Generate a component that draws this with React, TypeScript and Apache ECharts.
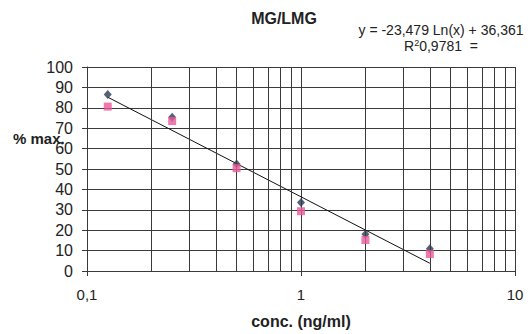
import React, { useEffect, useRef } from "react";
import * as echarts from "echarts";

const concentrations = [0.125, 0.25, 0.5, 1, 2, 4];
const seriesMG = [86.5, 75.4, 52.4, 33.6, 18, 10.9];
const seriesLMG = [80.6, 73.5, 50.4, 29.3, 15.2, 8.3];
const trendX = [0.125, 4];
const trendY = [85.2, 3.8];
const minorGridX = [0.2, 0.3, 0.4, 0.5, 0.6, 0.7, 0.8, 0.9, 2, 3, 4, 5, 6, 7, 8, 9];
const titleText = "MG/LMG";
const equationText = "y = -23,479 Ln(x) + 36,361";
const r2Value = "0,9781";

const FONT = "'Liberation Sans', Arial, sans-serif";
const GRID_COLOR = "#3a3a3a";

export default function App() {
  const ref = useRef<HTMLDivElement>(null);
  useEffect(() => {
    if (!ref.current) return;
    const chart = echarts.init(ref.current, null, { renderer: "svg" });
    chart.setOption({
      animation: false,
      backgroundColor: "#ffffff",
      grid: { left: 87, right: 15, top: 67, bottom: 54 },
      xAxis: {
        type: "log",
        logBase: 10,
        min: 0.1,
        max: 10,
        name: "conc. (ng/ml)",
        nameLocation: "middle",
        nameGap: 42,
        nameTextStyle: { fontFamily: FONT, fontSize: 16, fontWeight: "bold", color: "#222" },
        axisLine: { show: true, lineStyle: { color: GRID_COLOR, width: 1 } },
        axisTick: { show: true, length: 5, lineStyle: { color: GRID_COLOR } },
        axisLabel: {
          fontFamily: FONT,
          fontSize: 15,
          color: "#222",
          margin: 16,
          formatter: (v: number) => String(v).replace(".", ","),
        },
        splitLine: { show: true, lineStyle: { color: GRID_COLOR, width: 1 } },
      },
      yAxis: {
        type: "value",
        min: 0,
        max: 100,
        interval: 10,
        axisLine: { show: true, lineStyle: { color: GRID_COLOR, width: 1 } },
        axisTick: { show: true, length: 5, lineStyle: { color: GRID_COLOR } },
        axisLabel: { fontFamily: FONT, fontSize: 16, color: "#222", margin: 14 },
        splitLine: { show: true, lineStyle: { color: GRID_COLOR, width: 1 } },
      },
      graphic: [
        {
          type: "text",
          x: 284,
          y: 18,
          style: {
            text: titleText,
            textAlign: "center",
            textVerticalAlign: "middle",
            font: `bold 16px ${FONT}`,
            fill: "#222",
          },
        },
        {
          type: "text",
          x: 441,
          y: 30,
          style: {
            text: equationText,
            textAlign: "center",
            textVerticalAlign: "middle",
            font: `14px ${FONT}`,
            fill: "#222",
          },
        },
        {
          type: "text",
          x: 441,
          y: 46,
          style: {
            text: `R{sup|2}${r2Value}  =`,
            textAlign: "center",
            textVerticalAlign: "middle",
            font: `14px ${FONT}`,
            fill: "#222",
            rich: {
              sup: { fontSize: 9, fontFamily: FONT, verticalAlign: "top", padding: [0, 0, 7, 0], fill: "#222" },
            },
          },
        },
        {
          type: "text",
          x: 13,
          y: 138,
          style: {
            text: "% max.",
            textAlign: "left",
            textVerticalAlign: "middle",
            font: `bold 15px ${FONT}`,
            fill: "#222",
          },
        },
      ],
      series: [
        {
          type: "line",
          name: "minor",
          data: [],
          silent: true,
          markLine: {
            silent: true,
            symbol: ["none", "none"],
            label: { show: false },
            lineStyle: { color: GRID_COLOR, width: 1, type: "solid" },
            data: minorGridX.map((v) => ({ xAxis: v })),
          },
        },
        {
          type: "line",
          name: "trend",
          data: trendX.map((x, i) => [x, trendY[i]]),
          showSymbol: false,
          symbol: "none",
          lineStyle: { color: "#111", width: 1 },
          z: 3,
        },
        {
          type: "scatter",
          name: "MG",
          data: concentrations.map((x, i) => [x, seriesMG[i]]),
          symbol: "diamond",
          symbolSize: [8, 9],
          itemStyle: { color: "#2b3a52" },
          z: 4,
        },
        {
          type: "scatter",
          name: "LMG",
          data: concentrations.map((x, i) => [x, seriesLMG[i]]),
          symbol: "rect",
          symbolSize: 8,
          itemStyle: { color: "#ea5a98" },
          z: 5,
        },
      ],
    });
    return () => chart.dispose();
  }, []);
  return (
    <div
      ref={ref}
      style={{ position: "fixed", left: 0, top: 0, width: 530, height: 334, background: "#fff" }}
    />
  );
}
